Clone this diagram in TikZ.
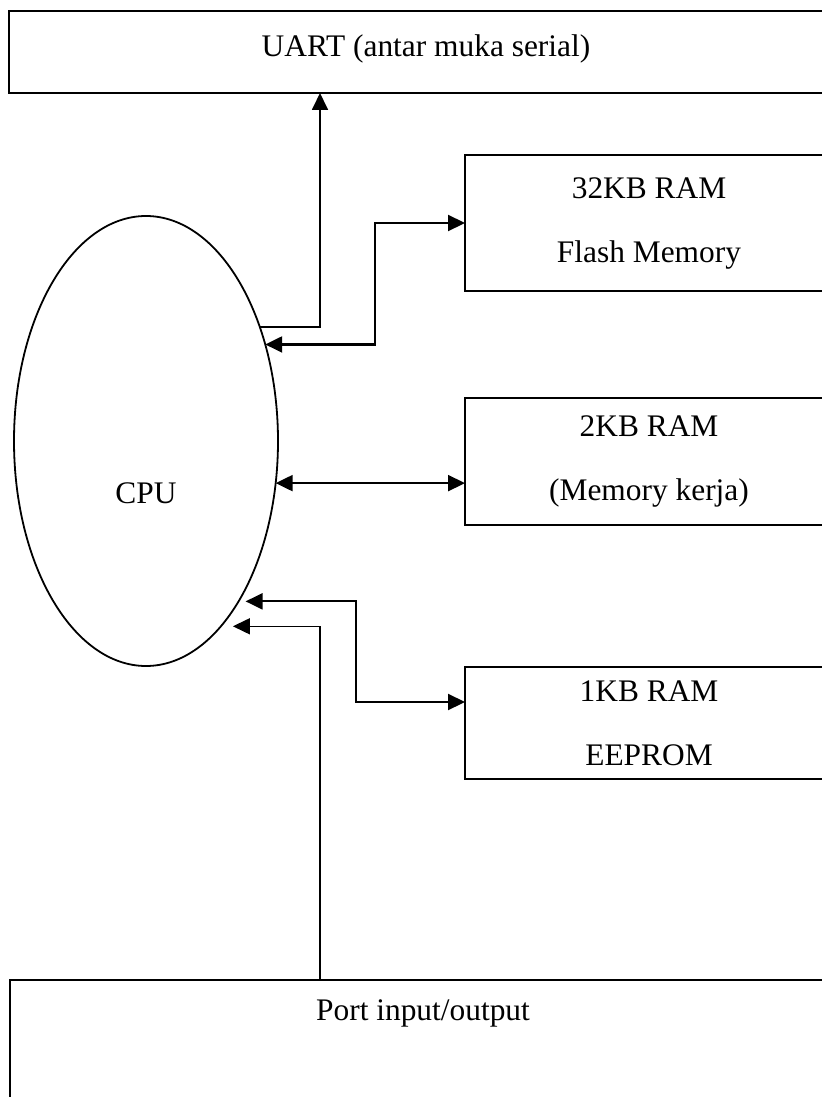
\documentclass[tikz,border=0pt]{standalone}
\usepackage{fontspec}
\setmainfont{Liberation Serif}
\usetikzlibrary{arrows.meta, shapes.geometric}

\begin{document}
\begin{tikzpicture}[x=0.5pt, y=-0.5pt, >={Triangle[length=8.5pt, width=8pt]},
    box/.style={draw, line width=1pt, rectangle, inner sep=0pt, outer sep=0pt,
        align=center, font=\fontsize{15.7}{32}\selectfont},
    lbl/.style={inner sep=0pt, font=\fontsize{15.7}{32}\selectfont},
    link/.style={line width=1.1pt}]
    % Page frame (boxes run off the right edge)
    \useasboundingbox (0,0) rectangle (822,1097);
    \clip (0,0) rectangle (822,1097);

    % UART box
    \node[box, minimum width=417pt, minimum height=41pt] (uart) at (426,52) {};
    \node[lbl] (uarttext) at (426,49) {UART (antar muka serial)};

    % Memory boxes
    \node[box, minimum width=184pt, minimum height=68pt] (flash) at (649,223)
        {32KB RAM\\Flash Memory};
    \node[box, minimum width=184pt, minimum height=63.5pt] (sram) at (649,461.5)
        {2KB RAM\\(Memory kerja)};
    \node[box, minimum width=184pt, minimum height=56pt] (eeprom) at (649,723)
        {1KB RAM\\EEPROM};

    % Port box
    \node[box, minimum width=413pt, minimum height=70pt] (port) at (423,1050) {};
    \node[lbl] (porttext) at (423,1013) {Port input/output};

    % CPU ellipse
    \node[draw, ellipse, line width=0.9pt, minimum width=132pt, minimum height=225pt,
        inner sep=0pt, outer sep=0pt] (cpu) at (146,441) {};
    \node[lbl] (cputext) at (146,493) {CPU};

    % Bend points
    \coordinate (uartin) at (320,93);
    \coordinate (busA) at (375,223);
    \coordinate (busC) at (356,702);
    \coordinate (porttap) at (320,980);

    % CPU -> UART
    \draw[link, line width=0.9pt, ->] (cpu.45) -| (uartin);

    % CPU <-> Flash
    \draw[link, <->] (cpu.39) -| (busA) -- (flash.west);

    % CPU <-> SRAM
    \draw[link, <->] (cpu.-18) -- (cpu.-18 -| sram.west);

    % CPU <-> EEPROM
    \draw[link, <->, shorten <=3.5pt] (cpu.-60) -| (busC) -- (busC -| eeprom.west);

    % Port -> CPU
    \draw[link, line width=0.75pt, ->, shorten >=6pt] (porttap) |- (cpu.-68);

\end{tikzpicture}
\end{document}
